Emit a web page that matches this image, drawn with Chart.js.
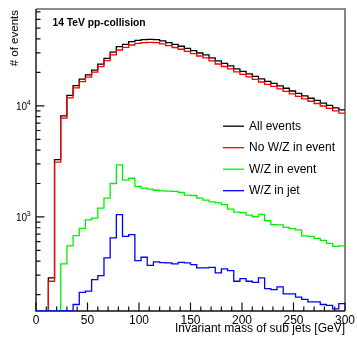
<!DOCTYPE html>
<html>
<head>
<meta charset="utf-8">
<title>Invariant mass of sub jets</title>
<script src="https://cdn.jsdelivr.net/npm/chart.js@4.4.0/dist/chart.umd.min.js"></script>
<style>
	html, body { margin: 0; padding: 0; background: #fff; }
</style>
</head>
<body>
<canvas id="mass-chart" width="357" height="337"></canvas>
<script>

var FONT_FAMILY = "'Liberation Sans', Arial, Helvetica, sans-serif";
var Y_MIN = 142.5;
var Y_MAX = 74400;

/* histogram bin edges [GeV], 50 bins of 6 GeV */
var massEdges = [0, 6, 12, 18, 24, 30, 36, 42, 48, 54, 60, 66, 72, 78, 84, 90, 96, 102, 108, 114,
	120, 126, 132, 138, 144, 150, 156, 162, 168, 174, 180, 186, 192, 198, 204, 210, 216, 222, 228, 234,
	240, 246, 252, 258, 264, 270, 276, 282, 288, 294, 300];

/* events per bin */
var allEvents = [0, 0, 283, 3280, 8130, 12400, 15200, 17400, 19000, 21000,
	23700, 26800, 30400, 34100, 35800, 37800, 38800, 39400, 39600, 39400,
	38400, 37100, 35700, 34400, 32900, 31400, 29900, 28700, 27000, 25400,
	24100, 22900, 21500, 20400, 19400, 18400, 17500, 16600, 15900, 15100,
	14400, 13600, 12950, 12300, 11700, 11200, 10600, 10100, 9600, 9210];

var noWZInEvent = [0, 0, 264, 3120, 7750, 11800, 14500, 16500, 18100, 20100,
	22500, 25500, 28700, 31800, 33600, 35300, 36500, 37000, 37200, 37000,
	36100, 34800, 33500, 32300, 30900, 29500, 28100, 27000, 25400, 23800,
	22600, 21500, 20200, 19200, 18200, 17300, 16400, 15600, 14950, 14200,
	13500, 12800, 12150, 11550, 11000, 10500, 9970, 9500, 9020, 8600];

var wzInEvent = [0, 0, 0, 0, 378, 549, 679, 790, 940, 975,
	1200, 1480, 2000, 2940, 2150, 2230, 1880, 1820, 1780, 1740,
	1720, 1705, 1700, 1660, 1570, 1560, 1480, 1420, 1370, 1340,
	1290, 1175, 1105, 1095, 1040, 1005, 1055, 925, 855, 850,
	805, 785, 765, 676, 669, 641, 615, 578, 544, 550];

var wzInJet = [0, 0, 0, 0, 0, 0, 163, 210, 215, 273,
	297, 428, 648, 1050, 669, 693, 405, 434, 367, 394,
	388, 386, 378, 391, 386, 373, 348, 348, 352, 314,
	341, 329, 264, 279, 264, 258, 283, 227, 222, 235,
	203, 203, 190, 181, 172, 172, 163, 160, 149, 166];

var seriesLabels = ["All events", "No W/Z in event", "W/Z in event", "W/Z in jet"];
var seriesColors = ["#000000", "#ff0000", "#00f000", "#0000ff"];
var xTickLabels = [0, 50, 100, 150, 200, 250, 300];
var yDecades = [1000, 10000];

// one point per lower bin edge, plus the upper edge of the last bin.
// empty bins sit on the bottom of the log axis
function toSteps(values) {
	var pts = [];
	for (var i = 0; i < values.length; i++) {
		pts.push({ x: massEdges[i], y: values[i] > 0 ? values[i] : Y_MIN });
	}
	var last = values[values.length - 1];
	pts.push({ x: massEdges[values.length], y: last > 0 ? last : Y_MIN });
	return pts;
}

function makeSet(idx, values) {
	return {
		label: seriesLabels[idx],
		data: toSteps(values),
		borderColor: seriesColors[idx],
		borderWidth: 1.3,
		pointRadius: 0,
		stepped: true,
		fill: false,
		order: 3 - idx
	};
}

/* frame, inward ticks, labels and legend drawn ROOT style */
var histDecor = {
	id: 'histDecor',
	beforeDatasetsDraw: function(chart) {
		var ctx = chart.ctx;
		var area = chart.chartArea;
		var xs = chart.scales.x;
		var ys = chart.scales.y;
		ctx.save();
		ctx.lineWidth = 1.6;
		ctx.strokeStyle = '#666';
		ctx.beginPath();
		ctx.moveTo(area.left, area.top);
		ctx.lineTo(area.right, area.top);
		ctx.lineTo(area.right, area.bottom);
		ctx.stroke();
		ctx.strokeStyle = '#111';
		ctx.lineWidth = 1.4;
		ctx.beginPath();
		ctx.moveTo(area.left, area.top);
		ctx.lineTo(area.left, area.bottom);
		ctx.lineTo(area.right, area.bottom);
		ctx.stroke();

		ctx.lineWidth = 1.2;
		ctx.beginPath();
		xs.ticks.forEach(function(t) {
			var px = xs.getPixelForValue(t.value);
			var len = (t.value % 50 === 0) ? 8.5 : 4.5;
			ctx.moveTo(px, area.bottom);
			ctx.lineTo(px, area.bottom - len);
		});
		for (var dec = 100; dec <= ys.max; dec *= 10) {
			for (var m = 1; m <= 9; m++) {
				var v = dec * m;
				if (v < ys.min || v > ys.max) continue;
				var py = ys.getPixelForValue(v);
				ctx.moveTo(area.left, py);
				ctx.lineTo(area.left + (m === 1 ? 8.5 : 4.5), py);
			}
		}
		ctx.stroke();
		ctx.restore();
	},
	afterDraw: function(chart) {
		var ctx = chart.ctx;
		var area = chart.chartArea;
		var ys = chart.scales.y;
		ctx.save();
		ctx.fillStyle = '#000';

		// y decade labels as 10 with a raised exponent
		ctx.textAlign = 'left';
		ctx.textBaseline = 'middle';
		yDecades.forEach(function(v) {
			var py = ys.getPixelForValue(v);
			ctx.font = '10px ' + FONT_FAMILY;
			ctx.fillText('10', 16, py + 1.2);
			ctx.font = '7px ' + FONT_FAMILY;
			ctx.fillText(String(Math.round(Math.log10(v))), 26.8, py - 2.8);
		});

		// axis titles
		ctx.font = '12px ' + FONT_FAMILY;
		ctx.textAlign = 'right';
		ctx.fillText('Invariant mass of sub jets [GeV]', area.right, 328.5);
		ctx.save();
		ctx.translate(14.5, area.top + 1);
		ctx.rotate(-Math.PI / 2);
		ctx.font = '11.5px ' + FONT_FAMILY;
		ctx.fillText('# of events', 0, 0);
		ctx.restore();

		ctx.textAlign = 'left';
		ctx.font = 'bold 10.3px ' + FONT_FAMILY;
		ctx.fillText('14 TeV pp-collision', 52.5, 22.7);

		// legend
		ctx.font = '12px ' + FONT_FAMILY;
		chart.data.datasets.forEach(function(ds, i) {
			var ly = 126.2 + i * 21.5;
			ctx.strokeStyle = ds.borderColor;
			ctx.lineWidth = 1.3;
			ctx.beginPath();
			ctx.moveTo(223, ly);
			ctx.lineTo(244, ly);
			ctx.stroke();
			ctx.fillStyle = '#000';
			ctx.fillText(ds.label, 249, ly);
		});
		ctx.restore();
	}
};

var massChart = new Chart(document.getElementById('mass-chart'), {
	type: 'line',
	data: {
		datasets: [
			makeSet(0, allEvents),
			makeSet(1, noWZInEvent),
			makeSet(2, wzInEvent),
			makeSet(3, wzInJet)
		]
	},
	options: {
		responsive: false,
		animation: false,
		layout: { padding: { left: 0, right: 10, top: 9, bottom: 0 } },
		plugins: {
			legend: { display: false },
			tooltip: { enabled: false }
		},
		scales: {
			x: {
				type: 'linear',
				min: 0,
				max: 300,
				grid: { display: false, drawTicks: false },
				border: { display: false },
				ticks: {
					stepSize: 10,
					autoSkip: false,
					maxRotation: 0,
					padding: 2,
					color: '#000',
					font: { family: FONT_FAMILY, size: 12 },
					callback: function(value) {
						return xTickLabels.indexOf(value) >= 0 ? String(value) : '';
					}
				},
				afterFit: function(scale) { scale.height = 26; }
			},
			y: {
				type: 'logarithmic',
				min: Y_MIN,
				max: Y_MAX,
				grid: { display: false, drawTicks: false },
				border: { display: false },
				ticks: { display: false },
				afterFit: function(scale) { scale.width = 36; }
			}
		}
	},
	plugins: [histDecor]
});

</script>
</body>
</html>
